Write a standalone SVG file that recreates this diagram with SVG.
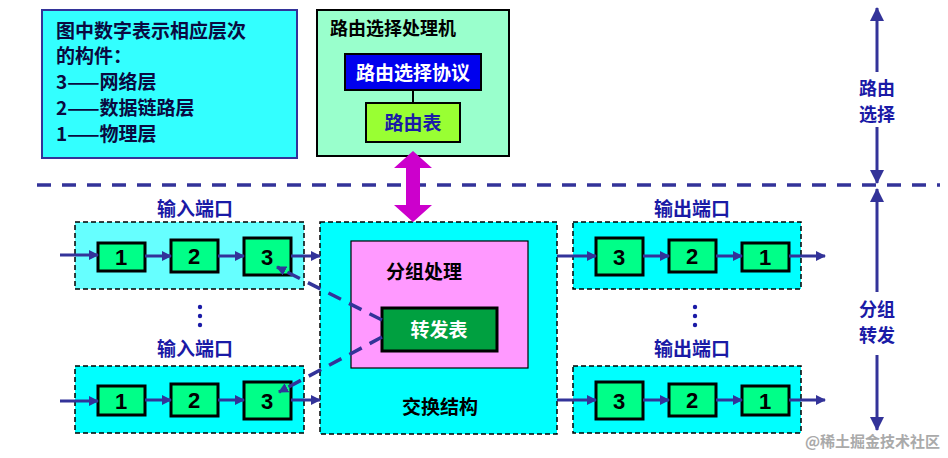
<svg xmlns="http://www.w3.org/2000/svg" width="948" height="458" viewBox="0 0 948 458">
<style>
text{font-family:"Noto Sans CJK SC","Liberation Sans",sans-serif;font-weight:bold}
.lbl{fill:#1a1aa6;font-size:19px;text-anchor:middle}
.side{fill:#1a1aa6;font-size:18px;text-anchor:middle}
.port{stroke:#000;stroke-width:1.5;stroke-dasharray:5,3}
.sb{fill:#00ff88;stroke:#000;stroke-width:3}
.num{font-family:"Liberation Sans",sans-serif;font-size:22px;text-anchor:middle;fill:#000}
.ar{stroke:#333399;stroke-width:3;fill:none;marker-end:url(#ah)}
</style>
<defs>
<marker id="ah" markerWidth="10" markerHeight="10" refX="9" refY="5" orient="auto" markerUnits="userSpaceOnUse"><path d="M0,0L10,5L0,10z" fill="#333399"/></marker>
<marker id="ah2" markerWidth="14" markerHeight="14" refX="13" refY="7" orient="auto" markerUnits="userSpaceOnUse"><path d="M0,0L14,7L0,14z" fill="#333399"/></marker>
</defs>
<rect width="948" height="458" fill="#fff"/>
<g id="legend"><rect x="42" y="10" width="255" height="148" fill="#33ffff" stroke="#333399" stroke-width="2"/>
<text x="56" y="38" font-size="19" fill="#0a0a40">图中数字表示相应层次</text>
<text x="56" y="63" font-size="19" fill="#0a0a40">的构件：</text>
<text x="56" y="89" font-size="19" fill="#0a0a40">3——网络层</text>
<text x="56" y="115" font-size="19" fill="#0a0a40">2——数据链路层</text>
<text x="56" y="141" font-size="19" fill="#0a0a40">1——物理层</text></g>
<g id="routing-processor"><rect x="317" y="10" width="192" height="146" fill="#99ffcc" stroke="#000" stroke-width="2"/>
<text x="330" y="35" font-size="18" fill="#000">路由选择处理机</text>
<line x1="413" y1="90" x2="413" y2="103" stroke="#000" stroke-width="2"/></g>
<g id="routing-protocol"><rect x="345" y="54" width="136" height="36" fill="#0000ee" stroke="#000" stroke-width="2"/>
<text x="413" y="80" font-size="19" fill="#fff" text-anchor="middle">路由选择协议</text></g>
<g id="routing-table"><rect x="366" y="103" width="94" height="39" fill="#99ff33" stroke="#000" stroke-width="2"/>
<text x="413" y="130" font-size="19" fill="#1a1aa6" text-anchor="middle">路由表</text></g>
<g id="divider"><line x1="37" y1="185" x2="940" y2="185" stroke="#333399" stroke-width="3.5" stroke-dasharray="14,11"/></g>
<g id="fabric"><rect x="320" y="222" width="237" height="212" fill="#00ffff" class="port" stroke-width="2"/>
<text x="440" y="414" font-size="19" fill="#000" text-anchor="middle">交换结构</text></g>
<g id="packet-proc"><rect x="351" y="241" width="177" height="127" fill="#ff99ff" stroke="#000" stroke-width="1.2"/>
<text x="424" y="279" font-size="19" fill="#000" text-anchor="middle">分组处理</text></g>
<g id="fwd-table"><rect x="382" y="308" width="115" height="43" fill="#00a040" stroke="#000" stroke-width="3"/>
<text x="439" y="337" font-size="19" fill="#fff" text-anchor="middle">转发表</text></g>
<g id="in1"><text x="195" y="216" class="lbl">输入端口</text><rect x="75" y="222" width="229" height="67" fill="#66ffff" class="port"/>
<rect x="98" y="243" width="47" height="28" class="sb"/><text x="121" y="265" class="num">1</text>
<rect x="171" y="240" width="47" height="32" class="sb"/><text x="194" y="264" class="num">2</text>
<rect x="244" y="238" width="47" height="37" class="sb"/><text x="267" y="265" class="num">3</text></g>
<g id="in2"><text x="195" y="356" class="lbl">输入端口</text><rect x="75" y="366" width="229" height="67" fill="#00ffff" class="port"/>
<rect x="98" y="386" width="47" height="29" class="sb"/><text x="121" y="409" class="num">1</text>
<rect x="171" y="384" width="47" height="32" class="sb"/><text x="194" y="408" class="num">2</text>
<rect x="244" y="382" width="47" height="37" class="sb"/><text x="267" y="409" class="num">3</text></g>
<g id="out1"><text x="692" y="216" class="lbl">输出端口</text><rect x="573" y="222" width="228" height="67" fill="#00ffff" class="port"/>
<rect x="596" y="238" width="47" height="37" class="sb"/><text x="619" y="265" class="num">3</text>
<rect x="669" y="240" width="47" height="32" class="sb"/><text x="692" y="264" class="num">2</text>
<rect x="742" y="243" width="47" height="28" class="sb"/><text x="765" y="265" class="num">1</text></g>
<g id="out2"><text x="692" y="356" class="lbl">输出端口</text><rect x="573" y="366" width="228" height="67" fill="#00ffff" class="port"/>
<rect x="596" y="382" width="47" height="37" class="sb"/><text x="619" y="409" class="num">3</text>
<rect x="669" y="384" width="47" height="32" class="sb"/><text x="692" y="408" class="num">2</text>
<rect x="742" y="386" width="47" height="29" class="sb"/><text x="765" y="409" class="num">1</text></g>
<g id="dots" fill="#1a1aa6"><circle cx="200" cy="307" r="2.2"/><circle cx="200" cy="316" r="2.2"/><circle cx="200" cy="325" r="2.2"/>
<circle cx="695" cy="307" r="2.2"/><circle cx="695" cy="316" r="2.2"/><circle cx="695" cy="325" r="2.2"/></g>
<g id="side-labels"><text x="877" y="95" class="side">路由</text><text x="877" y="121" class="side">选择</text>
<text x="877" y="316" class="side">分组</text><text x="877" y="342" class="side">转发</text></g>
<g id="connectors">
<path d="M413,151L432,168L420,168L420,205L432,205L413,222L394,205L406,205L406,168L394,168z" fill="#cc00cc"/>
<line x1="60" y1="255" x2="98" y2="255" class="ar"/><line x1="145" y1="256" x2="171" y2="256" class="ar"/><line x1="218" y1="256" x2="244" y2="256" class="ar"/><line x1="291" y1="256" x2="320" y2="256" class="ar"/>
<line x1="60" y1="401" x2="98" y2="401" class="ar"/><line x1="145" y1="400" x2="171" y2="400" class="ar"/><line x1="218" y1="400" x2="244" y2="400" class="ar"/><line x1="291" y1="400" x2="320" y2="400" class="ar"/>
<line x1="557" y1="256" x2="596" y2="256" class="ar"/><line x1="643" y1="256" x2="669" y2="256" class="ar"/><line x1="716" y1="256" x2="742" y2="256" class="ar"/><line x1="789" y1="256" x2="825" y2="256" class="ar"/>
<line x1="557" y1="400" x2="596" y2="400" class="ar"/><line x1="643" y1="400" x2="669" y2="400" class="ar"/><line x1="716" y1="400" x2="742" y2="400" class="ar"/><line x1="789" y1="400" x2="825" y2="400" class="ar"/>
<line x1="382" y1="320" x2="277" y2="267" stroke="#333399" stroke-width="3.5" stroke-dasharray="14,9" marker-end="url(#ah)"/>
<line x1="382" y1="337" x2="279" y2="392" stroke="#333399" stroke-width="3.5" stroke-dasharray="14,9" marker-end="url(#ah)"/>
<line x1="877" y1="72" x2="877" y2="8" stroke="#333399" stroke-width="3" marker-end="url(#ah2)"/>
<line x1="877" y1="127" x2="877" y2="183" stroke="#333399" stroke-width="3" marker-end="url(#ah2)"/>
<line x1="877" y1="292" x2="877" y2="189" stroke="#333399" stroke-width="3" marker-end="url(#ah2)"/>
<line x1="877" y1="355" x2="877" y2="430" stroke="#333399" stroke-width="3" marker-end="url(#ah2)"/>
</g>
<text x="940" y="447" font-size="15" fill="#aaa" font-weight="normal" text-anchor="end">@稀土掘金技术社区</text>
</svg>
